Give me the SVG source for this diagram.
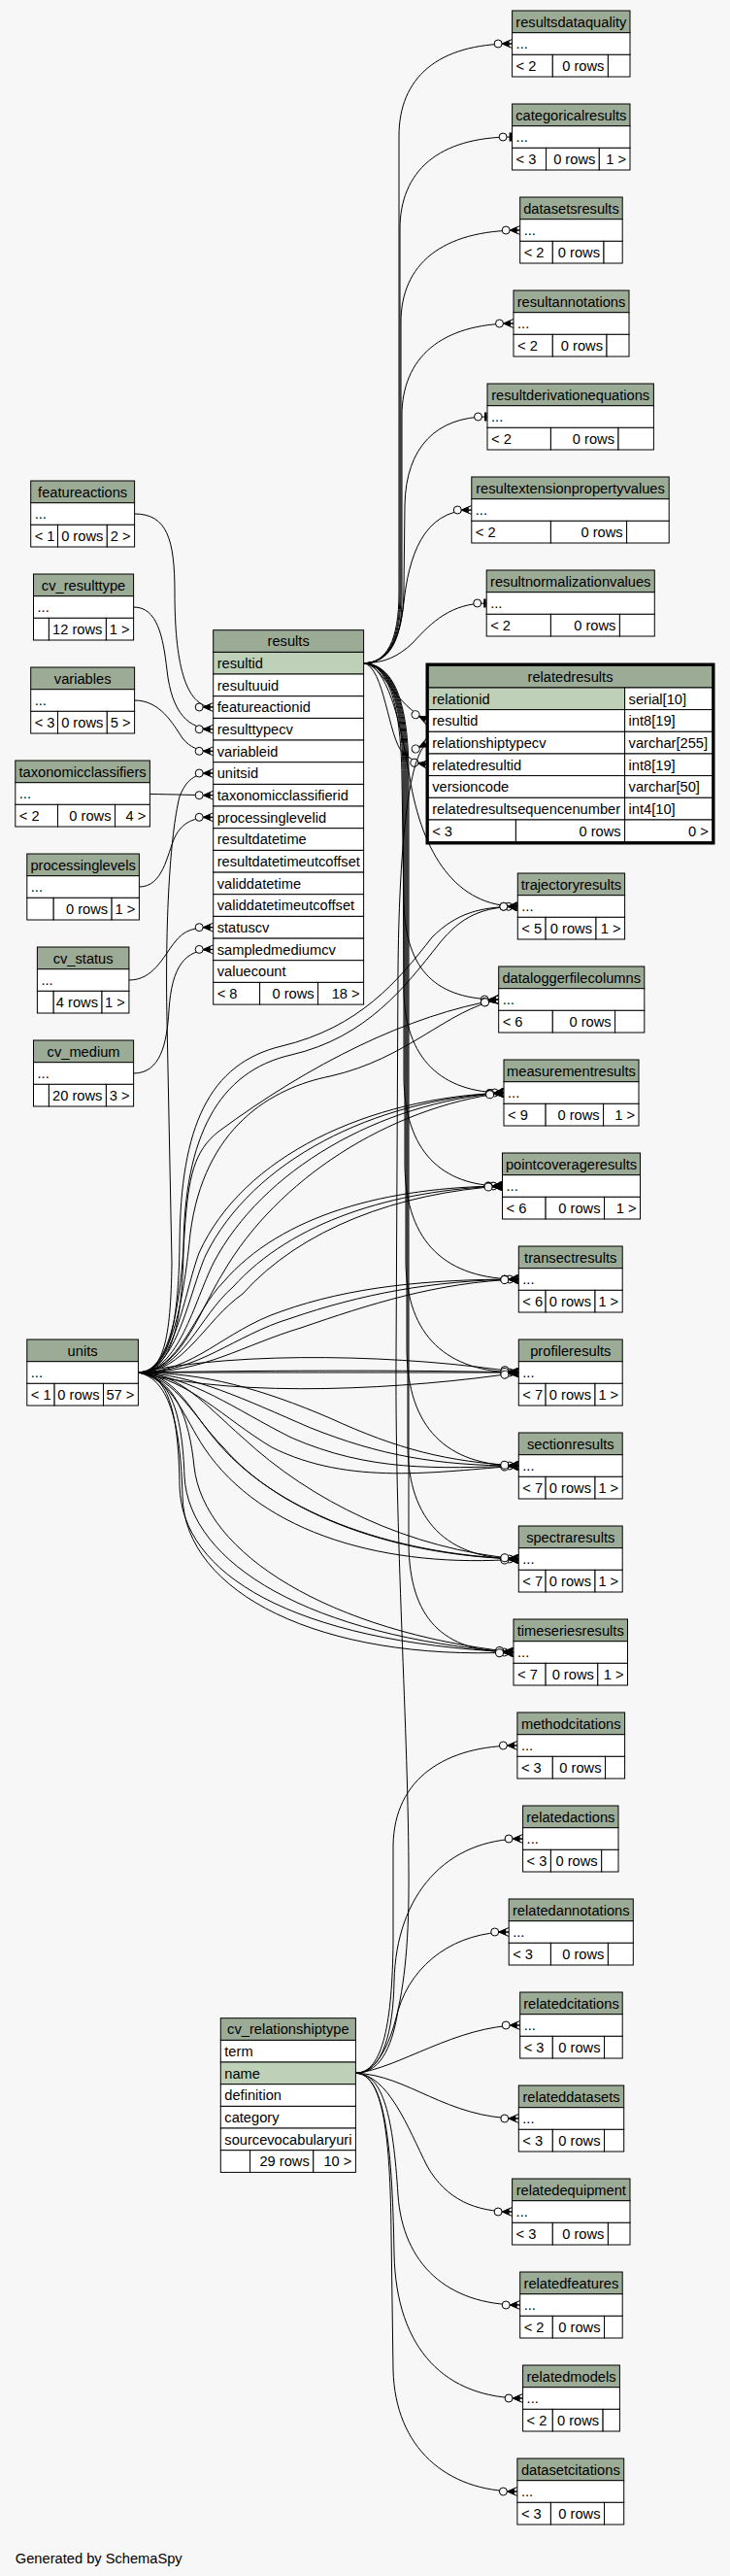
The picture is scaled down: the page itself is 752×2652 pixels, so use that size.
<svg xmlns="http://www.w3.org/2000/svg" width="752" height="2652" viewBox="0 0 752 2652">
<style>
text{font-family:"Liberation Sans",Arial,Helvetica,sans-serif;font-size:14.67px;fill:#000}
.c{text-anchor:middle}
.r{text-anchor:end}
.hd{fill:#9bab96;stroke:#000;stroke-width:1}
.cl{fill:#fff;stroke:#000;stroke-width:1}
.pk{fill:#bed1b8;stroke:#000;stroke-width:1}
.e{fill:none;stroke:#000;stroke-width:1}
.m{marker-end:url(#crow)}
.t{marker-end:url(#tee)}
</style>
<defs>
<marker id="crow" viewBox="0 0 20 12" markerWidth="20" markerHeight="12" refX="20" refY="6" orient="auto" markerUnits="userSpaceOnUse">
<path d="M9.5,6L20,1.5M9.5,6L20,6M9.5,6L20,10.5" fill="none" stroke="#000" stroke-width="1"/>
<path d="M9.5,6L17,2.6L17,9.4Z" fill="#000"/>
<circle cx="5.5" cy="6" r="4" fill="#f7f7f7" stroke="#000" stroke-width="1"/>
</marker>
<marker id="tee" viewBox="0 0 20 12" markerWidth="20" markerHeight="12" refX="20" refY="6" orient="auto" markerUnits="userSpaceOnUse">
<circle cx="10.5" cy="6" r="4" fill="#f7f7f7" stroke="#000" stroke-width="1"/>
<rect x="17" y="1.5" width="2.5" height="9" fill="#000"/>
</marker>
</defs>
<rect x="0" y="0" width="752" height="2652" fill="#f7f7f7"/>
<g id="connectors">
<path class="e m" d="M374.6,682.7 C398,682.7 411,660 411,610 L411,140 C411,80 451,45 527.6,45"/>
<path class="e t" d="M374.6,682.7 C399,682.7 412,660 412,610 L412,236 C412,176 452,141 527.6,141"/>
<path class="e m" d="M374.6,682.7 C400,682.7 413,660 413,610 L413,332 C413,272 455,237 535.7,237"/>
<path class="e m" d="M374.6,682.7 C401,682.7 414,660 414,615 L414,428 C414,368 455,333 529,333"/>
<path class="e t" d="M374.6,682.7 C402,682.7 416,655 416,605 L417,520 C418,460 450,429 502,429"/>
<path class="e m" d="M374.6,682.7 C398,682.7 412,660 416,620 C421,575 435,525 485.8,525"/>
<path class="e t" d="M374.6,682.7 C396,682.7 410,676 425,662 C445,640 465,621 501.2,621"/>
<path class="e m" d="M374.6,682.7 C395,685 405,725 441.2,741.9"/>
<path class="e m" d="M374.6,682.7 C396,686 400,760 415,775 C425,783 432,786 441.2,787.3"/>
<path class="e t" d="M374.6,682.7 C398,684 412,740 422,800 C435,880 470,933.3 533.3,933.3"/>
<path class="e m" d="M374.6,682.7 C398,684 413,720 414,800 L416,930 C418,1000 450,1029 513.7,1029"/>
<path class="e t" d="M374.6,682.7 C399,684 415,720 415,800 L416,1020 C417,1090 455,1125 519,1125"/>
<path class="e t" d="M374.6,682.7 C400,684 416,720 416,800 L416,1110 C417,1185 455,1221 517.5,1221"/>
<path class="e t" d="M374.6,682.7 C401,684 417,720 417,800 L417,1200 C418,1280 460,1317 534.3,1317"/>
<path class="e t" d="M374.6,682.7 C402,684 418,720 418,800 L418,1300 C419,1375 460,1413 534.3,1413"/>
<path class="e t" d="M374.6,682.7 C403,684 419,720 419,800 L419,1390 C420,1470 460,1509 534.3,1509"/>
<path class="e t" d="M374.6,682.7 C404,684 420,720 420,800 L420,1490 C421,1565 460,1605 534.3,1605"/>
<path class="e t" d="M374.6,682.7 C405,684 421,720 421,800 L421,1590 C422,1665 455,1701 529,1701"/>
<path class="e m" d="M138.6,529 C172,529 180,555 180,610 C180,680 190,728 219.7,728"/>
<path class="e m" d="M137.6,625 C162,625 168,655 172,690 C177,735 195,750.7 219.7,750.7"/>
<path class="e m" d="M138.6,721 C165,721 178,745 188,760 C196,770 205,773.3 219.7,773.3"/>
<path class="e m" d="M154.4,817.5 C180,817.8 200,818.7 219.7,818.7"/>
<path class="e m" d="M143.4,913 C168,913 172,880 180,862 C188,846 200,841.3 219.7,841.3"/>
<path class="e m" d="M132.9,1009 C158,1009 168,985 180,970 C190,957 200,954.7 219.7,954.7"/>
<path class="e m" d="M137.6,1105 C165,1105 172,1075 174,1040 C177,995 190,977.4 219.7,977.4"/>
<path class="e m" d="M142.4,1413 C168,1413 176,1380 177,1300 L172,1050 C170,950 175,860 185,820 C192,803 200,796 219.7,796"/>
<path class="e m" d="M142.4,1413 C172,1413 184,1370 185,1280 C186,1160 215,1095 290,1077 C370,1058 410,1010 445,965 C470,940 495,933.3 533.3,933.3"/>
<path class="e m" d="M142.4,1413 C174,1413 188,1370 189,1285 C190,1170 225,1103 300,1086 C378,1068 418,1015 452,972 C475,943 498,933.3 533.3,933.3"/>
<path class="e m" d="M142.4,1413 C176,1413 186,1340 190,1270 C194,1210 200,1185 225,1165 C320,1095 420,1045 513.7,1029"/>
<path class="e m" d="M142.4,1413 C178,1413 190,1330 196,1270 C210,1160 280,1120 340,1108 C420,1090 460,1040 513.7,1029"/>
<path class="e m" d="M142.4,1413 C180,1413 190,1330 205,1290 C250,1190 380,1130 519,1125"/>
<path class="e m" d="M142.4,1413 C182,1413 195,1330 212,1292 C260,1195 385,1132 519,1125"/>
<path class="e m" d="M142.4,1413 C184,1413 200,1340 220,1300 C270,1205 390,1135 519,1125"/>
<path class="e m" d="M142.4,1413 C186,1413 205,1350 230,1310 C285,1215 400,1140 519,1125"/>
<path class="e m" d="M142.4,1413 C185,1413 200,1350 230,1320 C290,1250 400,1222 517.5,1221"/>
<path class="e m" d="M142.4,1413 C188,1413 205,1355 240,1325 C300,1258 405,1225 517.5,1221"/>
<path class="e m" d="M142.4,1413 C190,1413 210,1360 250,1332 C310,1265 410,1228 517.5,1221"/>
<path class="e m" d="M142.4,1413 C200,1413 230,1370 290,1350 C360,1325 440,1317 534.3,1317"/>
<path class="e m" d="M142.4,1413 C205,1413 240,1375 300,1357 C370,1333 445,1318 534.3,1317"/>
<path class="e m" d="M142.4,1413 C210,1413 250,1385 310,1367 C380,1343 450,1320 534.3,1317"/>
<path class="e m" d="M142.4,1413 C250,1390 420,1395 534.3,1413"/>
<path class="e m" d="M142.4,1413 C250,1413 400,1413 534.3,1413"/>
<path class="e m" d="M142.4,1413 C250,1411 420,1410 534.3,1413"/>
<path class="e m" d="M142.4,1413 C250,1440 420,1430 534.3,1413"/>
<path class="e m" d="M142.4,1413 C200,1415 250,1440 320,1470 C390,1498 450,1509 534.3,1509"/>
<path class="e m" d="M142.4,1413 C200,1418 240,1450 300,1480 C380,1515 450,1512 534.3,1509"/>
<path class="e m" d="M142.4,1413 C195,1420 230,1460 280,1490 C360,1530 450,1515 534.3,1509"/>
<path class="e m" d="M142.4,1413 C210,1413 270,1430 340,1460 C410,1492 460,1505 534.3,1509"/>
<path class="e m" d="M142.4,1413 C180,1415 195,1450 220,1480 C280,1555 400,1600 534.3,1605"/>
<path class="e m" d="M142.4,1413 C182,1418 200,1460 230,1490 C290,1560 410,1602 534.3,1605"/>
<path class="e m" d="M142.4,1413 C178,1420 190,1460 210,1490 C270,1580 400,1615 534.3,1605"/>
<path class="e m" d="M142.4,1413 C185,1413 210,1445 250,1480 C320,1545 420,1595 534.3,1605"/>
<path class="e m" d="M142.4,1413 C175,1413 184,1460 185,1530 C187,1620 300,1690 529,1701"/>
<path class="e m" d="M142.4,1413 C177,1415 188,1460 190,1520 C195,1610 320,1685 529,1701"/>
<path class="e m" d="M142.4,1413 C180,1418 195,1460 200,1510 C210,1600 340,1680 529,1701"/>
<path class="e m" d="M142.4,1413 C176,1420 186,1470 188,1540 C190,1640 330,1710 529,1701"/>
<path class="e m" d="M366.4,2134.3 C395,2134.3 420,2080 421,1950 C422,1800 407,1600 408,1400 L410,1000 C411,880 420,775 441.2,764.6"/>
<path class="e m" d="M366.4,2134.3 C395,2134.3 404,2080 405,2000 L405,1900 C406,1830 460,1797 532.9,1797"/>
<path class="e m" d="M366.4,2134.3 C395,2134.3 405,2090 406,2040 C408,1950 460,1893 538.6,1893"/>
<path class="e m" d="M366.4,2134.3 C395,2134.3 405,2100 410,2070 C425,2020 470,1989 524.2,1989"/>
<path class="e m" d="M366.4,2134.3 C410,2130 470,2085 535.7,2085"/>
<path class="e m" d="M366.4,2134.3 C420,2136 460,2181 534.3,2181"/>
<path class="e m" d="M366.4,2134.3 C400,2136 420,2190 440,2230 C460,2265 490,2277 527.6,2277"/>
<path class="e m" d="M366.4,2134.3 C395,2134.3 405,2180 410,2260 C415,2330 460,2373 535.7,2373"/>
<path class="e m" d="M366.4,2134.3 C395,2134.3 404,2200 406,2320 C408,2420 460,2469 538.6,2469"/>
<path class="e m" d="M366.4,2134.3 C395,2134.3 402,2200 403,2300 L405,2440 C407,2520 460,2565 532.9,2565"/>
</g>
<g id="resultsdataquality">
<rect class="hd" x="527.6" y="11" width="121.4" height="22.7"/><rect class="cl" x="527.6" y="33.7" width="121.4" height="22.7"/>
<rect class="cl" x="527.6" y="56.3" width="41.7" height="22.7"/><rect class="cl" x="569.3" y="56.3" width="57.1" height="22.7"/><rect class="cl" x="626.4" y="56.3" width="22.6" height="22.7"/>
<text class="c" x="588.3" y="27.5">resultsdataquality</text><text x="531.6" y="50.2">...</text><text x="531.6" y="72.8">&lt; 2</text><text class="r" x="622.4" y="72.8">0 rows</text>
</g>
<g id="categoricalresults">
<rect class="hd" x="527.6" y="107" width="121.4" height="22.7"/><rect class="cl" x="527.6" y="129.7" width="121.4" height="22.7"/>
<rect class="cl" x="527.6" y="152.3" width="35" height="22.7"/><rect class="cl" x="562.6" y="152.3" width="54.7" height="22.7"/><rect class="cl" x="617.3" y="152.3" width="31.7" height="22.7"/>
<text class="c" x="588.3" y="123.5">categoricalresults</text><text x="531.6" y="146.2">...</text><text x="531.6" y="168.8">&lt; 3</text><text class="r" x="613.3" y="168.8">0 rows</text><text class="r" x="645" y="168.8">1 &gt;</text>
</g>
<g id="datasetsresults">
<rect class="hd" x="535.7" y="203" width="105.5" height="22.7"/><rect class="cl" x="535.7" y="225.7" width="105.5" height="22.7"/>
<rect class="cl" x="535.7" y="248.3" width="33.6" height="22.7"/><rect class="cl" x="569.3" y="248.3" width="52.7" height="22.7"/><rect class="cl" x="622" y="248.3" width="19.2" height="22.7"/>
<text class="c" x="588.45" y="219.5">datasetsresults</text><text x="539.7" y="242.2">...</text><text x="539.7" y="264.8">&lt; 2</text><text class="r" x="618" y="264.8">0 rows</text>
</g>
<g id="resultannotations">
<rect class="hd" x="529" y="299" width="119" height="22.7"/><rect class="cl" x="529" y="321.7" width="119" height="22.7"/>
<rect class="cl" x="529" y="344.3" width="40.3" height="22.7"/><rect class="cl" x="569.3" y="344.3" width="55.7" height="22.7"/><rect class="cl" x="625" y="344.3" width="23" height="22.7"/>
<text class="c" x="588.5" y="315.5">resultannotations</text><text x="533" y="338.2">...</text><text x="533" y="360.8">&lt; 2</text><text class="r" x="621" y="360.8">0 rows</text>
</g>
<g id="resultderivationequations">
<rect class="hd" x="502" y="395" width="171.4" height="22.7"/><rect class="cl" x="502" y="417.7" width="171.4" height="22.7"/>
<rect class="cl" x="502" y="440.3" width="65.4" height="22.7"/><rect class="cl" x="567.4" y="440.3" width="69.6" height="22.7"/><rect class="cl" x="637" y="440.3" width="36.4" height="22.7"/>
<text class="c" x="587.7" y="411.5">resultderivationequations</text><text x="506" y="434.2">...</text><text x="506" y="456.8">&lt; 2</text><text class="r" x="633" y="456.8">0 rows</text>
</g>
<g id="resultextensionpropertyvalues">
<rect class="hd" x="485.8" y="491" width="203.4" height="22.7"/><rect class="cl" x="485.8" y="513.7" width="203.4" height="22.7"/>
<rect class="cl" x="485.8" y="536.3" width="81.6" height="22.7"/><rect class="cl" x="567.4" y="536.3" width="78.2" height="22.7"/><rect class="cl" x="645.6" y="536.3" width="43.6" height="22.7"/>
<text class="c" x="587.5" y="507.5">resultextensionpropertyvalues</text><text x="489.8" y="530.2">...</text><text x="489.8" y="552.8">&lt; 2</text><text class="r" x="641.6" y="552.8">0 rows</text>
</g>
<g id="resultnormalizationvalues">
<rect class="hd" x="501.2" y="587" width="173.1" height="22.7"/><rect class="cl" x="501.2" y="609.7" width="173.1" height="22.7"/>
<rect class="cl" x="501.2" y="632.3" width="66.2" height="22.7"/><rect class="cl" x="567.4" y="632.3" width="71" height="22.7"/><rect class="cl" x="638.4" y="632.3" width="35.9" height="22.7"/>
<text class="c" x="587.75" y="603.5">resultnormalizationvalues</text><text x="505.2" y="626.2">...</text><text x="505.2" y="648.8">&lt; 2</text><text class="r" x="634.4" y="648.8">0 rows</text>
</g>
<g id="relatedresults">
<rect class="hd" x="441.2" y="685.3" width="292.6" height="22.7"/>
<rect class="pk" x="441.2" y="708" width="202.4" height="22.7"/><rect class="cl" x="643.6" y="708" width="90.2" height="22.7"/>
<rect class="cl" x="441.2" y="730.6" width="202.4" height="22.7"/><rect class="cl" x="643.6" y="730.6" width="90.2" height="22.7"/>
<rect class="cl" x="441.2" y="753.3" width="202.4" height="22.7"/><rect class="cl" x="643.6" y="753.3" width="90.2" height="22.7"/>
<rect class="cl" x="441.2" y="776" width="202.4" height="22.7"/><rect class="cl" x="643.6" y="776" width="90.2" height="22.7"/>
<rect class="cl" x="441.2" y="798.6" width="202.4" height="22.7"/><rect class="cl" x="643.6" y="798.6" width="90.2" height="22.7"/>
<rect class="cl" x="441.2" y="821.3" width="202.4" height="22.7"/><rect class="cl" x="643.6" y="821.3" width="90.2" height="22.7"/>
<rect class="cl" x="441.2" y="844" width="90.2" height="22.7"/><rect class="cl" x="531.4" y="844" width="112.2" height="22.7"/><rect class="cl" x="643.6" y="844" width="90.2" height="22.7"/>
<rect x="440" y="684" width="295" height="184" fill="none" stroke="#000" stroke-width="3"/>
<text class="c" x="587.5" y="701.8">relatedresults</text>
<text x="445.2" y="724.5">relationid</text><text x="647.6" y="724.5">serial[10]</text>
<text x="445.2" y="747.1">resultid</text><text x="647.6" y="747.1">int8[19]</text>
<text x="445.2" y="769.8">relationshiptypecv</text><text x="647.6" y="769.8">varchar[255]</text>
<text x="445.2" y="792.5">relatedresultid</text><text x="647.6" y="792.5">int8[19]</text>
<text x="445.2" y="815.1">versioncode</text><text x="647.6" y="815.1">varchar[50]</text>
<text x="445.2" y="837.8">relatedresultsequencenumber</text><text x="647.6" y="837.8">int4[10]</text>
<text x="445.2" y="860.5">&lt; 3</text><text class="r" x="639.6" y="860.5">0 rows</text><text class="r" x="729.8" y="860.5">0 &gt;</text>
</g>
<g id="trajectoryresults">
<rect class="hd" x="533.3" y="899" width="110.3" height="22.7"/><rect class="cl" x="533.3" y="921.7" width="110.3" height="22.7"/>
<rect class="cl" x="533.3" y="944.3" width="28.8" height="22.7"/><rect class="cl" x="562.1" y="944.3" width="51.9" height="22.7"/><rect class="cl" x="614" y="944.3" width="29.6" height="22.7"/>
<text class="c" x="588.45" y="915.5">trajectoryresults</text><text x="537.3" y="938.2">...</text><text x="537.3" y="960.8">&lt; 5</text><text class="r" x="610" y="960.8">0 rows</text><text class="r" x="639.6" y="960.8">1 &gt;</text>
</g>
<g id="dataloggerfilecolumns">
<rect class="hd" x="513.7" y="995" width="150.1" height="22.7"/><rect class="cl" x="513.7" y="1017.7" width="150.1" height="22.7"/>
<rect class="cl" x="513.7" y="1040.3" width="55.6" height="22.7"/><rect class="cl" x="569.3" y="1040.3" width="64.3" height="22.7"/><rect class="cl" x="633.6" y="1040.3" width="30.2" height="22.7"/>
<text class="c" x="588.75" y="1011.5">dataloggerfilecolumns</text><text x="517.7" y="1034.2">...</text><text x="517.7" y="1056.8">&lt; 6</text><text class="r" x="629.6" y="1056.8">0 rows</text>
</g>
<g id="measurementresults">
<rect class="hd" x="519" y="1091" width="139" height="22.7"/><rect class="cl" x="519" y="1113.7" width="139" height="22.7"/>
<rect class="cl" x="519" y="1136.3" width="43.1" height="22.7"/><rect class="cl" x="562.1" y="1136.3" width="59.5" height="22.7"/><rect class="cl" x="621.6" y="1136.3" width="36.4" height="22.7"/>
<text class="c" x="588.5" y="1107.5">measurementresults</text><text x="523" y="1130.2">...</text><text x="523" y="1152.8">&lt; 9</text><text class="r" x="617.6" y="1152.8">0 rows</text><text class="r" x="654" y="1152.8">1 &gt;</text>
</g>
<g id="pointcoverageresults">
<rect class="hd" x="517.5" y="1187" width="142" height="22.7"/><rect class="cl" x="517.5" y="1209.7" width="142" height="22.7"/>
<rect class="cl" x="517.5" y="1232.3" width="44.6" height="22.7"/><rect class="cl" x="562.1" y="1232.3" width="60.4" height="22.7"/><rect class="cl" x="622.5" y="1232.3" width="37" height="22.7"/>
<text class="c" x="588.5" y="1203.5">pointcoverageresults</text><text x="521.5" y="1226.2">...</text><text x="521.5" y="1248.8">&lt; 6</text><text class="r" x="618.5" y="1248.8">0 rows</text><text class="r" x="655.5" y="1248.8">1 &gt;</text>
</g>
<g id="transectresults">
<rect class="hd" x="534.3" y="1283" width="106.9" height="22.7"/><rect class="cl" x="534.3" y="1305.7" width="106.9" height="22.7"/>
<rect class="cl" x="534.3" y="1328.3" width="27.8" height="22.7"/><rect class="cl" x="562.1" y="1328.3" width="50.9" height="22.7"/><rect class="cl" x="613" y="1328.3" width="28.2" height="22.7"/>
<text class="c" x="587.75" y="1299.5">transectresults</text><text x="538.3" y="1322.2">...</text><text x="538.3" y="1344.8">&lt; 6</text><text class="r" x="609" y="1344.8">0 rows</text><text class="r" x="637.2" y="1344.8">1 &gt;</text>
</g>
<g id="profileresults">
<rect class="hd" x="534.3" y="1379" width="106.9" height="22.7"/><rect class="cl" x="534.3" y="1401.7" width="106.9" height="22.7"/>
<rect class="cl" x="534.3" y="1424.3" width="27.8" height="22.7"/><rect class="cl" x="562.1" y="1424.3" width="50.9" height="22.7"/><rect class="cl" x="613" y="1424.3" width="28.2" height="22.7"/>
<text class="c" x="587.75" y="1395.5">profileresults</text><text x="538.3" y="1418.2">...</text><text x="538.3" y="1440.8">&lt; 7</text><text class="r" x="609" y="1440.8">0 rows</text><text class="r" x="637.2" y="1440.8">1 &gt;</text>
</g>
<g id="sectionresults">
<rect class="hd" x="534.3" y="1475" width="106.9" height="22.7"/><rect class="cl" x="534.3" y="1497.7" width="106.9" height="22.7"/>
<rect class="cl" x="534.3" y="1520.3" width="27.8" height="22.7"/><rect class="cl" x="562.1" y="1520.3" width="50.9" height="22.7"/><rect class="cl" x="613" y="1520.3" width="28.2" height="22.7"/>
<text class="c" x="587.75" y="1491.5">sectionresults</text><text x="538.3" y="1514.2">...</text><text x="538.3" y="1536.8">&lt; 7</text><text class="r" x="609" y="1536.8">0 rows</text><text class="r" x="637.2" y="1536.8">1 &gt;</text>
</g>
<g id="spectraresults">
<rect class="hd" x="534.3" y="1571" width="106.9" height="22.7"/><rect class="cl" x="534.3" y="1593.7" width="106.9" height="22.7"/>
<rect class="cl" x="534.3" y="1616.3" width="27.8" height="22.7"/><rect class="cl" x="562.1" y="1616.3" width="50.9" height="22.7"/><rect class="cl" x="613" y="1616.3" width="28.2" height="22.7"/>
<text class="c" x="587.75" y="1587.5">spectraresults</text><text x="538.3" y="1610.2">...</text><text x="538.3" y="1632.8">&lt; 7</text><text class="r" x="609" y="1632.8">0 rows</text><text class="r" x="637.2" y="1632.8">1 &gt;</text>
</g>
<g id="timeseriesresults">
<rect class="hd" x="529" y="1667" width="117.5" height="22.7"/><rect class="cl" x="529" y="1689.7" width="117.5" height="22.7"/>
<rect class="cl" x="529" y="1712.3" width="33.1" height="22.7"/><rect class="cl" x="562.1" y="1712.3" width="53.7" height="22.7"/><rect class="cl" x="615.8" y="1712.3" width="30.7" height="22.7"/>
<text class="c" x="587.75" y="1683.5">timeseriesresults</text><text x="533" y="1706.2">...</text><text x="533" y="1728.8">&lt; 7</text><text class="r" x="611.8" y="1728.8">0 rows</text><text class="r" x="642.5" y="1728.8">1 &gt;</text>
</g>
<g id="methodcitations">
<rect class="hd" x="532.9" y="1763" width="110.7" height="22.7"/><rect class="cl" x="532.9" y="1785.7" width="110.7" height="22.7"/>
<rect class="cl" x="532.9" y="1808.3" width="36.4" height="22.7"/><rect class="cl" x="569.3" y="1808.3" width="54.2" height="22.7"/><rect class="cl" x="623.5" y="1808.3" width="20.1" height="22.7"/>
<text class="c" x="588.25" y="1779.5">methodcitations</text><text x="536.9" y="1802.2">...</text><text x="536.9" y="1824.8">&lt; 3</text><text class="r" x="619.5" y="1824.8">0 rows</text>
</g>
<g id="relatedactions">
<rect class="hd" x="538.6" y="1859" width="98.4" height="22.7"/><rect class="cl" x="538.6" y="1881.7" width="98.4" height="22.7"/>
<rect class="cl" x="538.6" y="1904.3" width="28.8" height="22.7"/><rect class="cl" x="567.4" y="1904.3" width="52.3" height="22.7"/><rect class="cl" x="619.7" y="1904.3" width="17.3" height="22.7"/>
<text class="c" x="587.8" y="1875.5">relatedactions</text><text x="542.6" y="1898.2">...</text><text x="542.6" y="1920.8">&lt; 3</text><text class="r" x="615.7" y="1920.8">0 rows</text>
</g>
<g id="relatedannotations">
<rect class="hd" x="524.2" y="1955" width="128.1" height="22.7"/><rect class="cl" x="524.2" y="1977.7" width="128.1" height="22.7"/>
<rect class="cl" x="524.2" y="2000.3" width="43.2" height="22.7"/><rect class="cl" x="567.4" y="2000.3" width="59" height="22.7"/><rect class="cl" x="626.4" y="2000.3" width="25.9" height="22.7"/>
<text class="c" x="588.25" y="1971.5">relatedannotations</text><text x="528.2" y="1994.2">...</text><text x="528.2" y="2016.8">&lt; 3</text><text class="r" x="622.4" y="2016.8">0 rows</text>
</g>
<g id="relatedcitations">
<rect class="hd" x="535.7" y="2051" width="105.5" height="22.7"/><rect class="cl" x="535.7" y="2073.7" width="105.5" height="22.7"/>
<rect class="cl" x="535.7" y="2096.3" width="33.6" height="22.7"/><rect class="cl" x="569.3" y="2096.3" width="53.2" height="22.7"/><rect class="cl" x="622.5" y="2096.3" width="18.7" height="22.7"/>
<text class="c" x="588.45" y="2067.5">relatedcitations</text><text x="539.7" y="2090.2">...</text><text x="539.7" y="2112.8">&lt; 3</text><text class="r" x="618.5" y="2112.8">0 rows</text>
</g>
<g id="relateddatasets">
<rect class="hd" x="534.3" y="2147" width="108.4" height="22.7"/><rect class="cl" x="534.3" y="2169.7" width="108.4" height="22.7"/>
<rect class="cl" x="534.3" y="2192.3" width="35" height="22.7"/><rect class="cl" x="569.3" y="2192.3" width="53.2" height="22.7"/><rect class="cl" x="622.5" y="2192.3" width="20.2" height="22.7"/>
<text class="c" x="588.5" y="2163.5">relateddatasets</text><text x="538.3" y="2186.2">...</text><text x="538.3" y="2208.8">&lt; 3</text><text class="r" x="618.5" y="2208.8">0 rows</text>
</g>
<g id="relatedequipment">
<rect class="hd" x="527.6" y="2243" width="121.4" height="22.7"/><rect class="cl" x="527.6" y="2265.7" width="121.4" height="22.7"/>
<rect class="cl" x="527.6" y="2288.3" width="41.7" height="22.7"/><rect class="cl" x="569.3" y="2288.3" width="57.1" height="22.7"/><rect class="cl" x="626.4" y="2288.3" width="22.6" height="22.7"/>
<text class="c" x="588.3" y="2259.5">relatedequipment</text><text x="531.6" y="2282.2">...</text><text x="531.6" y="2304.8">&lt; 3</text><text class="r" x="622.4" y="2304.8">0 rows</text>
</g>
<g id="relatedfeatures">
<rect class="hd" x="535.7" y="2339" width="105.5" height="22.7"/><rect class="cl" x="535.7" y="2361.7" width="105.5" height="22.7"/>
<rect class="cl" x="535.7" y="2384.3" width="33.6" height="22.7"/><rect class="cl" x="569.3" y="2384.3" width="53.2" height="22.7"/><rect class="cl" x="622.5" y="2384.3" width="18.7" height="22.7"/>
<text class="c" x="588.45" y="2355.5">relatedfeatures</text><text x="539.7" y="2378.2">...</text><text x="539.7" y="2400.8">&lt; 2</text><text class="r" x="618.5" y="2400.8">0 rows</text>
</g>
<g id="relatedmodels">
<rect class="hd" x="538.6" y="2435" width="99.8" height="22.7"/><rect class="cl" x="538.6" y="2457.7" width="99.8" height="22.7"/>
<rect class="cl" x="538.6" y="2480.3" width="30.7" height="22.7"/><rect class="cl" x="569.3" y="2480.3" width="51.8" height="22.7"/><rect class="cl" x="621.1" y="2480.3" width="17.3" height="22.7"/>
<text class="c" x="588.5" y="2451.5">relatedmodels</text><text x="542.6" y="2474.2">...</text><text x="542.6" y="2496.8">&lt; 2</text><text class="r" x="617.1" y="2496.8">0 rows</text>
</g>
<g id="datasetcitations">
<rect class="hd" x="532.9" y="2531" width="109.8" height="22.7"/><rect class="cl" x="532.9" y="2553.7" width="109.8" height="22.7"/>
<rect class="cl" x="532.9" y="2576.3" width="34.5" height="22.7"/><rect class="cl" x="567.4" y="2576.3" width="55.1" height="22.7"/><rect class="cl" x="622.5" y="2576.3" width="20.2" height="22.7"/>
<text class="c" x="587.8" y="2547.5">datasetcitations</text><text x="536.9" y="2570.2">...</text><text x="536.9" y="2592.8">&lt; 3</text><text class="r" x="618.5" y="2592.8">0 rows</text>
</g>
<g id="featureactions">
<rect class="hd" x="31.7" y="495" width="106.9" height="22.7"/><rect class="cl" x="31.7" y="517.7" width="106.9" height="22.7"/>
<rect class="cl" x="31.7" y="540.3" width="27.8" height="22.7"/><rect class="cl" x="59.5" y="540.3" width="50.8" height="22.7"/><rect class="cl" x="110.3" y="540.3" width="28.3" height="22.7"/>
<text class="c" x="85.15" y="511.5">featureactions</text><text x="35.7" y="534.2">...</text><text x="35.7" y="556.8">&lt; 1</text><text class="r" x="106.3" y="556.8">0 rows</text><text class="r" x="134.6" y="556.8">2 &gt;</text>
</g>
<g id="cv_resulttype">
<rect class="hd" x="34.5" y="591" width="103.1" height="22.7"/><rect class="cl" x="34.5" y="613.7" width="103.1" height="22.7"/>
<rect class="cl" x="34.5" y="636.3" width="15.9" height="22.7"/><rect class="cl" x="50.4" y="636.3" width="59" height="22.7"/><rect class="cl" x="109.4" y="636.3" width="28.2" height="22.7"/>
<text class="c" x="86.05" y="607.5">cv_resulttype</text><text x="38.5" y="630.2">...</text><text class="r" x="105.4" y="652.8">12 rows</text><text class="r" x="133.6" y="652.8">1 &gt;</text>
</g>
<g id="variables">
<rect class="hd" x="31.7" y="687" width="106.9" height="22.7"/><rect class="cl" x="31.7" y="709.7" width="106.9" height="22.7"/>
<rect class="cl" x="31.7" y="732.3" width="27.8" height="22.7"/><rect class="cl" x="59.5" y="732.3" width="50.8" height="22.7"/><rect class="cl" x="110.3" y="732.3" width="28.3" height="22.7"/>
<text class="c" x="85.15" y="703.5">variables</text><text x="35.7" y="726.2">...</text><text x="35.7" y="748.8">&lt; 3</text><text class="r" x="106.3" y="748.8">0 rows</text><text class="r" x="134.6" y="748.8">5 &gt;</text>
</g>
<g id="taxonomicclassifiers">
<rect class="hd" x="15.8" y="783" width="138.6" height="22.7"/><rect class="cl" x="15.8" y="805.7" width="138.6" height="22.7"/>
<rect class="cl" x="15.8" y="828.3" width="43.7" height="22.7"/><rect class="cl" x="59.5" y="828.3" width="59" height="22.7"/><rect class="cl" x="118.5" y="828.3" width="35.9" height="22.7"/>
<text class="c" x="85.1" y="799.5">taxonomicclassifiers</text><text x="19.8" y="822.2">...</text><text x="19.8" y="844.8">&lt; 2</text><text class="r" x="114.5" y="844.8">0 rows</text><text class="r" x="150.4" y="844.8">4 &gt;</text>
</g>
<g id="processinglevels">
<rect class="hd" x="27.8" y="879" width="115.6" height="22.7"/><rect class="cl" x="27.8" y="901.7" width="115.6" height="22.7"/>
<rect class="cl" x="27.8" y="924.3" width="27.4" height="22.7"/><rect class="cl" x="55.2" y="924.3" width="59.9" height="22.7"/><rect class="cl" x="115.1" y="924.3" width="28.3" height="22.7"/>
<text class="c" x="85.6" y="895.5">processinglevels</text><text x="31.8" y="918.2">...</text><text class="r" x="111.1" y="940.8">0 rows</text><text class="r" x="139.4" y="940.8">1 &gt;</text>
</g>
<g id="cv_status">
<rect class="hd" x="38.4" y="975" width="94.5" height="22.7"/><rect class="cl" x="38.4" y="997.7" width="94.5" height="22.7"/>
<rect class="cl" x="38.4" y="1020.3" width="16.8" height="22.7"/><rect class="cl" x="55.2" y="1020.3" width="49.8" height="22.7"/><rect class="cl" x="105" y="1020.3" width="27.9" height="22.7"/>
<text class="c" x="85.65" y="991.5">cv_status</text><text x="42.4" y="1014.2">...</text><text class="r" x="101" y="1036.8">4 rows</text><text class="r" x="128.9" y="1036.8">1 &gt;</text>
</g>
<g id="cv_medium">
<rect class="hd" x="34.5" y="1071" width="103.1" height="22.7"/><rect class="cl" x="34.5" y="1093.7" width="103.1" height="22.7"/>
<rect class="cl" x="34.5" y="1116.3" width="15.9" height="22.7"/><rect class="cl" x="50.4" y="1116.3" width="59" height="22.7"/><rect class="cl" x="109.4" y="1116.3" width="28.2" height="22.7"/>
<text class="c" x="86.05" y="1087.5">cv_medium</text><text x="38.5" y="1110.2">...</text><text class="r" x="105.4" y="1132.8">20 rows</text><text class="r" x="133.6" y="1132.8">3 &gt;</text>
</g>
<g id="units">
<rect class="hd" x="27.8" y="1379" width="114.6" height="22.7"/><rect class="cl" x="27.8" y="1401.7" width="114.6" height="22.7"/>
<rect class="cl" x="27.8" y="1424.3" width="28.3" height="22.7"/><rect class="cl" x="56.1" y="1424.3" width="50.4" height="22.7"/><rect class="cl" x="106.5" y="1424.3" width="35.9" height="22.7"/>
<text class="c" x="85.1" y="1395.5">units</text><text x="31.8" y="1418.2">...</text><text x="31.8" y="1440.8">&lt; 1</text><text class="r" x="102.5" y="1440.8">0 rows</text><text class="r" x="138.4" y="1440.8">57 &gt;</text>
</g>
<g id="results">
<rect class="hd" x="219.7" y="648.7" width="154.9" height="22.7"/>
<rect class="pk" x="219.7" y="671.4" width="154.9" height="22.7"/>
<rect class="cl" x="219.7" y="694" width="154.9" height="22.7"/>
<rect class="cl" x="219.7" y="716.7" width="154.9" height="22.7"/>
<rect class="cl" x="219.7" y="739.4" width="154.9" height="22.7"/>
<rect class="cl" x="219.7" y="762" width="154.9" height="22.7"/>
<rect class="cl" x="219.7" y="784.7" width="154.9" height="22.7"/>
<rect class="cl" x="219.7" y="807.4" width="154.9" height="22.7"/>
<rect class="cl" x="219.7" y="830" width="154.9" height="22.7"/>
<rect class="cl" x="219.7" y="852.7" width="154.9" height="22.7"/>
<rect class="cl" x="219.7" y="875.4" width="154.9" height="22.7"/>
<rect class="cl" x="219.7" y="898.1" width="154.9" height="22.7"/>
<rect class="cl" x="219.7" y="920.7" width="154.9" height="22.7"/>
<rect class="cl" x="219.7" y="943.4" width="154.9" height="22.7"/>
<rect class="cl" x="219.7" y="966.1" width="154.9" height="22.7"/>
<rect class="cl" x="219.7" y="988.7" width="154.9" height="22.7"/>
<rect class="cl" x="219.7" y="1011.4" width="47.9" height="22.7"/><rect class="cl" x="267.6" y="1011.4" width="60" height="22.7"/><rect class="cl" x="327.6" y="1011.4" width="47" height="22.7"/>
<text class="c" x="297.15" y="665.2">results</text>
<text x="223.7" y="687.9">resultid</text>
<text x="223.7" y="710.5">resultuuid</text>
<text x="223.7" y="733.2">featureactionid</text>
<text x="223.7" y="755.9">resulttypecv</text>
<text x="223.7" y="778.5">variableid</text>
<text x="223.7" y="801.2">unitsid</text>
<text x="223.7" y="823.9">taxonomicclassifierid</text>
<text x="223.7" y="846.5">processinglevelid</text>
<text x="223.7" y="869.2">resultdatetime</text>
<text x="223.7" y="891.9">resultdatetimeutcoffset</text>
<text x="223.7" y="914.6">validdatetime</text>
<text x="223.7" y="937.2">validdatetimeutcoffset</text>
<text x="223.7" y="959.9">statuscv</text>
<text x="223.7" y="982.6">sampledmediumcv</text>
<text x="223.7" y="1005.2">valuecount</text>
<text x="223.7" y="1027.9">&lt; 8</text><text class="r" x="323.6" y="1027.9">0 rows</text><text class="r" x="370.6" y="1027.9">18 &gt;</text>
</g>
<g id="cv_relationshiptype">
<rect class="hd" x="227.3" y="2077.7" width="139.1" height="22.7"/>
<rect class="cl" x="227.3" y="2100.4" width="139.1" height="22.7"/>
<rect class="pk" x="227.3" y="2123" width="139.1" height="22.7"/>
<rect class="cl" x="227.3" y="2145.7" width="139.1" height="22.7"/>
<rect class="cl" x="227.3" y="2168.4" width="139.1" height="22.7"/>
<rect class="cl" x="227.3" y="2191" width="139.1" height="22.7"/>
<rect class="cl" x="227.3" y="2213.7" width="30.3" height="22.7"/><rect class="cl" x="257.6" y="2213.7" width="65.2" height="22.7"/><rect class="cl" x="322.8" y="2213.7" width="43.6" height="22.7"/>
<text class="c" x="296.85" y="2094.2">cv_relationshiptype</text>
<text x="231.3" y="2116.9">term</text>
<text x="231.3" y="2139.5">name</text>
<text x="231.3" y="2162.2">definition</text>
<text x="231.3" y="2184.9">category</text>
<text x="231.3" y="2207.5">sourcevocabularyuri</text>
<text class="r" x="318.8" y="2230.2">29 rows</text><text class="r" x="362.4" y="2230.2">10 &gt;</text>
</g>
<text x="15.8" y="2639">Generated by SchemaSpy</text>
</svg>
